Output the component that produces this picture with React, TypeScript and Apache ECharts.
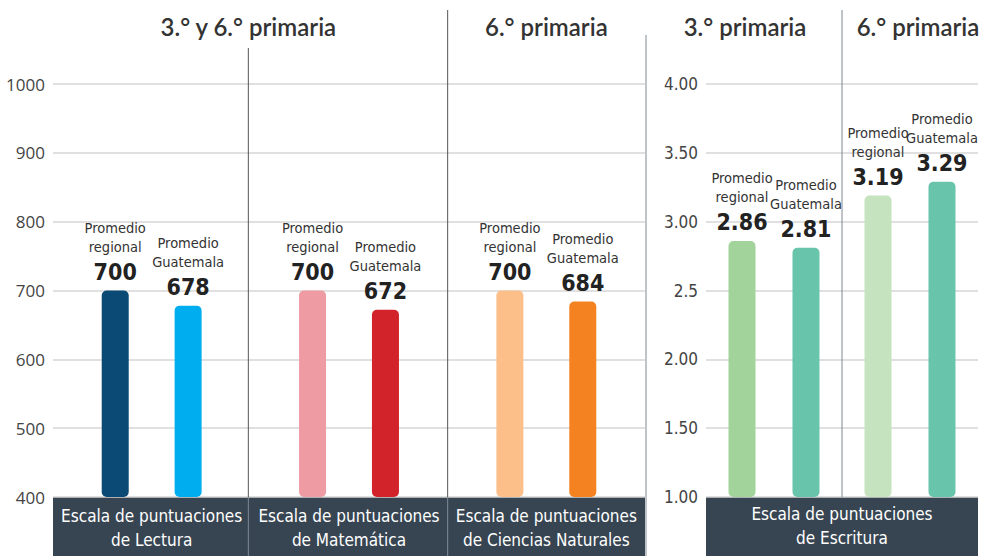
import React, { useEffect, useRef } from "react";
import * as echarts from "echarts";

const leftCategories = [
  "Escala de puntuaciones\nde Lectura",
  "Escala de puntuaciones\nde Matemática",
  "Escala de puntuaciones\nde Ciencias Naturales",
];
const leftRegional = [700, 700, 700];
const leftGuatemala = [678, 672, 684];
const leftRegionalColors = ["#0b4a75", "#ee9ba3", "#fdbf8a"];
const leftGuatemalaColors = ["#00aeef", "#d2232a", "#f58220"];

const rightCategories = ["3.° primaria", "6.° primaria"];
const rightRegional = [2.86, 3.19];
const rightGuatemala = [2.81, 3.29];
const rightRegionalColors = ["#a1d39b", "#c6e3bf"];
const rightGuatemalaColors = ["#68c4aa", "#68c4aa"];

const leftTickLabels = ["400", "500", "600", "700", "800", "900", "1000"];
const rightTickLabels = ["1.00", "1.50", "2.00", "2.5", "3.00", "3.50", "4.00"];

const titles = ["3.° y 6.° primaria", "6.° primaria", "3.° primaria", "6.° primaria"];
const rightBoxLabel = "Escala de puntuaciones\nde Escritura";

const COND = "'Liberation Sans Narrow', 'DejaVu Sans Condensed', 'Roboto Condensed', Roboto, sans-serif";
const TITLEF = "Lato, 'Open Sans', sans-serif";

export default function App() {
  const ref = useRef<HTMLDivElement>(null);
  useEffect(() => {
    document.body.style.margin = "0";
    if (!ref.current) return;
    const chart = echarts.init(ref.current, undefined, { renderer: "svg" });

    const W = 983;
    const H = 556;
    const top = 84;
    const boxTop = 497;
    const bottom = H - boxTop;
    const L0 = 53, R0 = 645;
    const L1 = 706, R1 = 978;

    const labelFor = (who: string, dec: number) => ({
      show: true,
      position: "top",
      distance: 4,
      formatter: (p: any) => `{t|Promedio}\n{t|${who}}\n{v|${Number(p.value).toFixed(dec)}}`,
      rich: {
        t: { fontSize: 14.5, lineHeight: 19, color: "#333", fontFamily: COND, align: "center" },
        v: { fontSize: 23, lineHeight: 30, color: "#222", fontWeight: "bold", fontFamily: COND, align: "center" },
      },
    });

    const colored = (vals: number[], cols: string[]) =>
      vals.map((v, i) => ({ value: v, itemStyle: { color: cols[i] } }));

    const yLabel = (arr: string[], min: number, step: number) => (v: number) => {
      const i = Math.round((v - min) / step);
      return arr[i] ?? "";
    };

    const vline = (x: number, y1: number, y2: number, color: string) => ({
      type: "line",
      shape: { x1: x, y1, x2: x, y2 },
      style: { stroke: color, lineWidth: 1 },
      z: 5,
    });

    const leftSec = (R0 - L0) / 3;

    chart.setOption({
      animation: false,
      grid: [
        { left: L0, right: W - R0, top, bottom },
        { left: L1, right: W - R1, top, bottom },
      ],
      xAxis: [
        {
          type: "category",
          gridIndex: 0,
          data: leftCategories,
          axisLine: { show: false },
          axisTick: { show: false },
          axisLabel: { interval: 0, color: "#fff", fontSize: 17, lineHeight: 24, margin: 7, fontFamily: COND },
        },
        {
          type: "category",
          gridIndex: 1,
          data: rightCategories,
          axisLine: { show: false },
          axisTick: { show: false },
          axisLabel: { show: false },
        },
      ],
      yAxis: [
        {
          type: "value",
          gridIndex: 0,
          min: 400,
          max: 1000,
          interval: 100,
          axisLine: { show: false },
          axisTick: { show: false },
          axisLabel: { color: "#444", fontSize: 17, margin: 8, fontFamily: "'Open Sans', sans-serif", formatter: yLabel(leftTickLabels, 400, 100) },
          splitLine: { lineStyle: { color: "#d6d6d6", width: 1.5 } },
        },
        {
          type: "value",
          gridIndex: 1,
          min: 1,
          max: 4,
          interval: 0.5,
          axisLine: { show: false },
          axisTick: { show: false },
          axisLabel: { color: "#444", fontSize: 17, margin: 8, fontFamily: COND, formatter: yLabel(rightTickLabels, 1, 0.5) },
          splitLine: { lineStyle: { color: "#d6d6d6", width: 1.5 } },
        },
      ],
      series: [
        {
          type: "bar",
          xAxisIndex: 0,
          yAxisIndex: 0,
          data: colored(leftRegional, leftRegionalColors),
          barWidth: 27,
          barGap: "170%",
          itemStyle: { borderRadius: 5 },
          label: labelFor("regional", 0),
          z: 3,
        },
        {
          type: "bar",
          xAxisIndex: 0,
          yAxisIndex: 0,
          data: colored(leftGuatemala, leftGuatemalaColors),
          barWidth: 27,
          barGap: "170%",
          itemStyle: { borderRadius: 5 },
          label: labelFor("Guatemala", 0),
          z: 3,
        },
        {
          type: "bar",
          xAxisIndex: 1,
          yAxisIndex: 1,
          data: colored(rightRegional, rightRegionalColors),
          barWidth: 27,
          barGap: "137%",
          itemStyle: { borderRadius: 5 },
          label: labelFor("regional", 2),
          z: 3,
        },
        {
          type: "bar",
          xAxisIndex: 1,
          yAxisIndex: 1,
          data: colored(rightGuatemala, rightGuatemalaColors),
          barWidth: 27,
          barGap: "137%",
          itemStyle: { borderRadius: 5 },
          label: labelFor("Guatemala", 2),
          z: 3,
        },
      ],
      graphic: [
        { type: "rect", shape: { x: L0, y: boxTop, width: R0 - L0, height: H - boxTop }, style: { fill: "#374552" }, z: -10 },
        { type: "rect", shape: { x: L1, y: boxTop, width: R1 - L1, height: H - boxTop }, style: { fill: "#374552" }, z: -10 },
        {
          type: "text",
          x: (L1 + R1) / 2,
          y: boxTop + 5,
          style: { text: rightBoxLabel, fill: "#fff", fontSize: 17, lineHeight: 24, fontFamily: COND, align: "center", verticalAlign: "top" },
          z: 10,
        },
        vline(L0 + leftSec - 2, 48, boxTop, "#555"),
        vline(L0 + 2 * leftSec, 10, boxTop, "#555"),
        vline(L0 + leftSec - 2, boxTop, H, "#7f8a94"),
        vline(L0 + 2 * leftSec, boxTop, H, "#7f8a94"),
        vline(R0 + 1, 35, H, "#7d8894"),
        vline((L1 + R1) / 2, 10, boxTop, "#7d8894"),
        { type: "text", x: L0 + leftSec - 2, y: 26, style: { text: titles[0], fill: "#333", fontSize: 24, fontWeight: 600, fontFamily: TITLEF, align: "center", verticalAlign: "middle" } },
        { type: "text", x: L0 + 2.5 * leftSec, y: 26, style: { text: titles[1], fill: "#333", fontSize: 24, fontWeight: 600, fontFamily: TITLEF, align: "center", verticalAlign: "middle" } },
        { type: "text", x: 745, y: 26, style: { text: titles[2], fill: "#333", fontSize: 24, fontWeight: 600, fontFamily: TITLEF, align: "center", verticalAlign: "middle" } },
        { type: "text", x: 918, y: 26, style: { text: titles[3], fill: "#333", fontSize: 24, fontWeight: 600, fontFamily: TITLEF, align: "center", verticalAlign: "middle" } },
      ],
    });
    return () => chart.dispose();
  }, []);
  return <div ref={ref} style={{ width: 983, height: 556 }} />;
}
